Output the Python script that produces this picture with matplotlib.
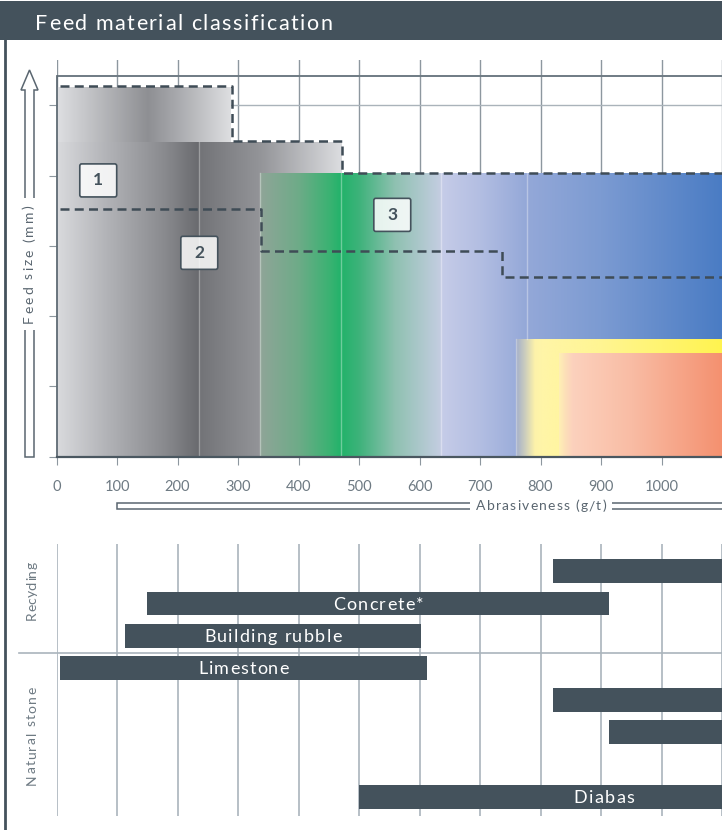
import numpy as np
import matplotlib
matplotlib.use("Agg")
import matplotlib.pyplot as plt
from matplotlib.patches import Rectangle, FancyBboxPatch, Polygon
from matplotlib.font_manager import FontProperties
from matplotlib import colors as mcolors

plt.rcParams['font.family'] = ['Lato', 'DejaVu Sans']

SLATE = '#44525c'
GRID = '#8d979f'

# --- feed size chart: shaded zones (abrasiveness range, feed size top) ---
zone_x0 = [0, 0, 337, 759, 830]
zone_x1 = [287, 470, 1100, 1100, 1100]
zone_top = [5.26, 4.48, 4.03, 1.67, 1.47]
# colour stops along abrasiveness for each zone
zone_stops = [
    ([0, 40, 150, 200, 287], ['#dedfe2', '#c9cacd', '#8e8f93', '#a9aaae', '#dedfe1']),
    ([0, 80, 180, 236, 237, 337, 470], ['#d9dadd', '#b3b4b8', '#88898d', '#68696d', '#737478', '#949599', '#dcdde0']),
    ([337, 400, 450, 471, 500, 560, 634, 636, 700, 778, 900, 1100],
     ['#8fa598', '#6eab88', '#3cb273', '#22b36a', '#3db27a', '#8fc1b1', '#c3cde0', '#c6cce8', '#b3bee2', '#94a8d8', '#7c9bd2', '#4a7cc4']),
    ([759, 775, 790, 800, 900, 1100], ['#a3afcb', '#cfd0bc', '#fdf2aa', '#fff5a8', '#fff592', '#fff34f']),
    ([830, 840, 852, 950, 1100], ['#fff0b4', '#fde0b8', '#fcd1bd', '#f9bca4', '#f4906f']),
]
edge_lines_x = [236, 337, 471, 635, 778]
edge_lines_top = [4.48, 4.03, 4.03, 4.03, 4.03]
edge_lines_bot = [0, 0, 0, 0, 1.67]

# class boundaries (dashed)
bound1_x = [5, 290, 290, 472, 472, 1100]
bound1_y = [5.28, 5.28, 4.49, 4.49, 4.04, 4.04]
bound2_x = [5, 338, 338, 736, 736, 1100]
bound2_y = [3.53, 3.53, 2.92, 2.92, 2.55, 2.55]

# class labels
class_labels = ['1', '2', '3']
class_x = [69, 236, 555]
class_y = [3.93, 2.90, 3.44]

xticks = [0, 100, 200, 300, 400, 500, 600, 700, 800, 900, 1000]

# --- materials chart ---
mat_names = ['', 'Concrete*', 'Building rubble', 'Limestone', '', '', 'Diabas']
mat_start = [820, 150, 113, 6, 820, 913, 500]
mat_end = [1400, 914, 602, 612, 1400, 1400, 1310]
mat_row = [0, 1, 2, 3, 4, 5, 7]

W, H = 722, 830
fig = plt.figure(figsize=(W / 100, H / 100), dpi=100)
renderer = fig.canvas.get_renderer()


def px_axes(x0, y0, x1, y1, **kw):
    return fig.add_axes([x0 / W, 1 - y1 / H, (x1 - x0) / W, (y1 - y0) / H], **kw)


# ---------------- top chart ----------------
ax = px_axes(56.5, 60, 722, 456.7)
ax.set_xlim(0, 1100)
ax.set_ylim(0, 5.643)
ax.set_facecolor('none')
for s in ['top', 'right']:
    ax.spines[s].set_visible(False)
ax.spines['left'].set_bounds(0, 5.42)
ax.spines['left'].set_color('#5f6b74')
ax.spines['bottom'].set_color('#4a5760')
ax.spines['left'].set_linewidth(1.3)
ax.spines['bottom'].set_linewidth(1.6)

for x in xticks + [1100]:
    ax.axvline(x, color=GRID, lw=1, zorder=0)
ax.axhline(5.42, color='#6f7b84', lw=1.4, zorder=0.5)
ax.axhline(5, color='#aab3ba', lw=1, zorder=0.5)

for (xs, cs), x0, x1, top in zip(zone_stops, zone_x0, zone_x1, zone_top):
    grid = np.linspace(x0, x1, 600)
    rgb = np.array([mcolors.to_rgb(c) for c in cs])
    img = np.stack([np.interp(grid, xs, rgb[:, k]) for k in range(3)], axis=-1)[None, :, :]
    ax.imshow(img, extent=[x0, x1, 0, top], aspect='auto', interpolation='bilinear',
              zorder=1, origin='lower')

for x, t, b in zip(edge_lines_x, edge_lines_top, edge_lines_bot):
    ax.plot([x, x], [b, t], color='white', alpha=0.35, lw=1, zorder=1.5)
ax.plot([759, 759], [0, 1.67], color='white', alpha=0.3, lw=1, zorder=1.5)

dash = (0, (3.6, 2.1))
ax.plot(bound1_x, bound1_y, color='#3f4c56', lw=1.8, ls=dash, zorder=3)
ax.plot(bound2_x, bound2_y, color='#3f4c56', lw=1.8, ls=dash, zorder=3)

for lab, cx, cy in zip(class_labels, class_x, class_y):
    ax.add_patch(FancyBboxPatch((cx - 30.5, cy - 0.235), 61, 0.47,
                                boxstyle='round,pad=0,rounding_size=3',
                                mutation_aspect=0.01,
                                fc=(1, 1, 1, 0.84), ec=SLATE, lw=1.2, zorder=4))
    ax.text(cx, cy, lab, ha='center', va='center', fontsize=12.5, fontweight='bold',
            color=SLATE, zorder=5)

ax.set_xticks(xticks)
ax.set_xticklabels([str(v) for v in xticks])
ax.set_yticks([0, 1, 2, 3, 4, 5])
ax.set_yticklabels([])
ax.tick_params(axis='x', length=6, color=GRID, labelcolor='#6e7a83', labelsize=10.5, pad=11)
ax.tick_params(axis='y', length=6, color=GRID)

# ---------------- bottom chart ----------------
bx = px_axes(56.5, 544, 722, 816)
bx.set_xlim(0, 1100)
bx.set_ylim(7.6, -0.85)
bx.set_facecolor('none')
for s in bx.spines.values():
    s.set_visible(False)
bx.set_xticks([])
bx.set_yticks([])
for x in xticks + [1100]:
    bx.axvline(x, color='#aab4bc', lw=1.2, zorder=0)
widths = [e - s for s, e in zip(mat_start, mat_end)]
bx.barh(mat_row, widths, left=mat_start, height=0.74, color=SLATE, zorder=2)

# ---------------- decorations (pixel space, y down) ----------------
d = fig.add_axes([0, 0, 1, 1], zorder=5)
d.set_xlim(0, W)
d.set_ylim(H, 0)
d.axis('off')


def tracked(s, x, y, size, width, color, ha='center', rot=0, weight='normal'):
    """Letter-spaced text; x, y is the baseline anchor in pixels."""
    fp = FontProperties(family=['Lato', 'DejaVu Sans'], size=size, weight=weight)

    def w(t):
        return renderer.get_text_width_height_descent(t, fp, ismath=False)[0]

    pos = [0.0] + [w(s[:i] + '|') - w('|') for i in range(1, len(s))]
    track = max(0.0, (width - w(s)) / (len(s) - 1))
    pos = [p + i * track for i, p in enumerate(pos)]
    total = w(s) + track * (len(s) - 1)
    start = -total / 2 if ha == 'center' else 0
    for ch, p in zip(s, pos):
        if ch == ' ':
            continue
        if rot == 0:
            d.text(x + start + p, y, ch, ha='left', va='baseline', fontproperties=fp,
                   color=color)
        else:
            d.text(x, y - start - p, ch, ha='left', va='baseline', rotation=90,
                   rotation_mode='anchor', fontproperties=fp, color=color)


d.add_patch(Rectangle((0, 1), W, 39, fc=SLATE, ec='none', zorder=0))
tracked('Feed material classification', 35, 30, 15.5, 297, 'white', ha='left')
d.plot([4.5, 4.5], [40, H], color=SLATE, lw=2)

# y axis arrow
arrow_col = '#5a6670'
d.add_patch(Polygon([(25, 198), (25, 90), (21, 90), (29.5, 70), (38, 90), (34, 90), (34, 198)],
                    closed=False, fc='white', ec=arrow_col, lw=1.1, zorder=0))
d.add_patch(Polygon([(25, 330), (25, 457), (34, 457), (34, 330)],
                    closed=False, fc='white', ec=arrow_col, lw=1.1, zorder=0))
tracked('Feed size (mm)', 33, 264, 10, 118, '#5a6670', rot=90)

# x axis label bar
XL = 506
d.add_patch(Polygon([(470, XL - 3), (117, XL - 3), (117, XL + 3), (470, XL + 3)],
                    closed=False, fc='white', ec=arrow_col, lw=1.1, zorder=0))
d.add_patch(Polygon([(612, XL - 3), (730, XL - 3), (730, XL + 3), (612, XL + 3)],
                    closed=False, fc='white', ec=arrow_col, lw=1.1, zorder=0))
tracked('Abrasiveness (g/t)', 541, XL + 4, 10, 130, '#5a6670')

# group separators and labels
d.plot([19, W], [652.5, 652.5], color='#aab4bc', lw=1.2, zorder=0)
tracked('Recycling', 36, 591, 10, 58, '#6e7a83', rot=90)
tracked('Natural stone', 36, 736, 10, 98, '#6e7a83', rot=90)

# material bar labels, centred on each bar
label_widths = {'Concrete*': 91, 'Building rubble': 137, 'Limestone': 90, 'Diabas': 61}
for name, s, e, r in zip(mat_names, mat_start, mat_end, mat_row):
    if name:
        px, py = bx.transData.transform(((s + e) / 2, r))
        tracked(name, px, H - py + 6, 13, label_widths[name], 'white')

fig.savefig('out.png', dpi=100, facecolor='white')
